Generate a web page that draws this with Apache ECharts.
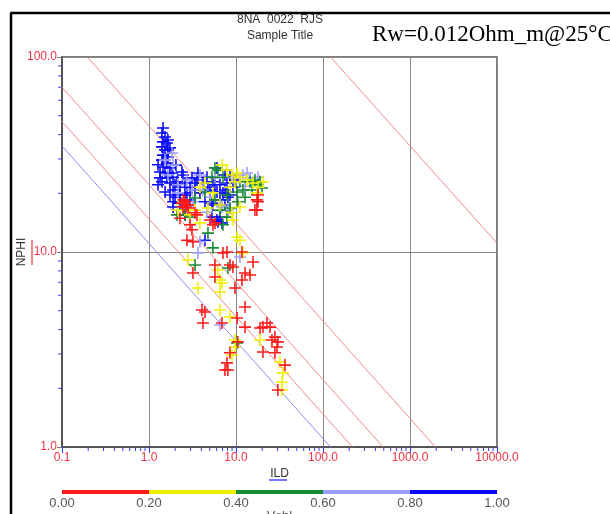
<!DOCTYPE html>
<html>
<head>
<meta charset="utf-8">
<title>NPHI vs ILD</title>
<script src="https://cdn.jsdelivr.net/npm/echarts@6.0.0/dist/echarts.min.js"></script>
<style>
  html,body{margin:0;padding:0;background:#fff;}
  #chart{width:610px;height:514px;}
</style>
</head>
<body>
<div id="chart"></div>
<script>
// tick labels
var ildTicks = [0.1, 1, 10, 100, 1000, 10000];
var nphiTicks = [1, 10, 100];
var minorMult = [2, 3, 4, 5, 6, 7, 8, 9];

// Vshl classes for the colour bar
var vshlBins = [[0, 0.2], [0.2, 0.4], [0.4, 0.6], [0.6, 0.8], [0.8, 1.0]];
var vshlTicks = [0, 0.2, 0.4, 0.6, 0.8, 1.0];
var vshlColors = ['#ff1a1a', '#f0f000', '#178a34', '#9d9dff', '#0a0aff'];

// points [ILD, NPHI], one list per Vshl class
var ptsBlue = [
  [1.45,43.2],[1.41,40.8],[1.53,38.9],[1.45,36.7],[1.61,36.2],[1.41,34.6],[1.53,33.4],[1.74,34.2],
  [1.45,31.4],[1.65,30.7],[1.41,29.6],[1.61,28.6],[1.45,27.3],[1.74,27.0],[1.34,25.7],[1.53,25.4],
  [1.84,25.4],[1.61,24.0],[1.89,24.2],[1.41,22.9],[1.74,22.6],[2.10,22.9],[2.27,21.5],[1.89,20.8],
  [2.39,25.7],[2.46,24.8],[2.73,20.1],[2.96,21.5],[3.38,20.8],[3.85,20.1],[3.65,25.4],[3.56,23.4],
  [4.64,24.2],[4.76,21.5],[5.43,22.9],[6.04,20.3],[6.54,22.1],[7.08,20.1],[7.87,22.6],[7.47,24.8],
  [8.52,24.8],[9.22,21.5],[8.08,19.1],[6.54,18.5],[5.29,17.8],[4.40,18.1],[5.29,15.1],[6.04,14.6],
  [6.90,14.1],[2.27,17.8],[1.89,17.0],[2.59,15.5],[1.99,19.1],[6.04,27.0],[4.40,11.5],[6.20,14.3],
  [5.43,17.4],[7.47,17.4],[6.54,15.1],[1.89,18.1],[1.27,28.0],[1.65,33.4],[1.99,22.1],[2.59,22.6],
  [3.12,24.0],[4.17,22.6],[1.27,22.1],[1.53,20.3],[1.74,19.6],[1.34,24.0],[2.59,19.6],[2.96,18.5],
  [3.38,22.6],[5.02,20.8],[5.73,22.1],[8.52,19.6],[9.73,23.4],[7.47,20.8],[2.27,19.6],[2.04,27.9],
  [1.65,37.5]
];
var ptsLav = [
  [1.84,32.2],[1.89,27.9],[1.65,24.8],[2.15,20.1],[2.73,23.4],[3.85,24.8],[4.17,20.8],[5.02,19.1],
  [12.0,24.8],[13.4,25.4],[17.9,24.2],[9.22,24.0],[3.20,18.1],[6.90,17.0],[4.64,16.0],[3.85,11.3],
  [3.65,9.88],[11.1,9.43],[8.08,16.4],[6.54,4.22],[1.53,29.6],[2.15,22.1],[3.12,20.8],[5.73,24.0],
  [14.5,24.0],[12.7,21.8]
];
var ptsGreen = [
  [5.73,27.0],[6.20,26.3],[5.29,24.2],[7.08,24.2],[11.1,22.9],[14.5,22.9],[16.5,23.4],[18.9,22.9],
  [19.9,21.3],[15.3,20.8],[12.0,20.8],[10.3,20.3],[12.7,19.1],[7.87,19.6],[5.73,18.5],[4.40,20.3],
  [3.38,18.9],[2.46,16.4],[2.96,15.1],[6.54,16.4],[8.52,16.8],[2.59,15.5],[2.10,15.5],[4.76,12.5],
  [5.43,10.5],[3.38,8.58],[8.08,8.28],[7.08,13.8],[10.5,18.1],[7.87,15.1],[10.3,3.42],[17.9,22.1]
];
var ptsYellow = [
  [6.90,27.9],[7.87,26.3],[8.98,24.8],[10.3,25.4],[9.73,22.9],[11.1,24.2],[13.4,23.4],[15.7,22.6],
  [17.9,21.5],[8.52,21.5],[3.85,21.5],[4.40,22.6],[2.46,18.1],[2.15,16.4],[3.38,16.4],[5.43,20.1],
  [6.54,17.4],[17.4,20.1],[20.4,22.9],[3.85,14.1],[4.76,16.8],[8.98,15.9],[9.22,14.6],[2.96,15.5],
  [11.1,17.0],[10.3,11.9],[11.1,11.5],[12.0,9.88],[3.65,6.54],[6.54,6.24],[6.90,6.93],[6.54,5.04],
  [8.52,4.64],[9.73,3.54],[9.73,3.26],[8.98,2.96],[18.9,3.54],[32.0,2.73],[34.6,2.40],[33.7,2.15],
  [33.7,1.96],[6.54,7.18],[6.20,8.09],[2.81,9.10]
];
var ptsRed = [
  [2.39,17.8],[2.59,18.1],[2.73,17.4],[2.46,17.0],[2.81,16.8],[2.50,18.5],[2.66,17.0],
  [17.4,16.4],[17.9,18.1],[17.4,18.5],[16.5,16.4],[17.9,19.6],[2.81,17.4],[3.56,15.5],[5.02,14.6],
  [5.43,13.8],[3.12,13.0],[2.73,11.5],[3.20,11.3],[7.87,10.0],[7.08,9.88],[11.7,10.0],[15.7,8.89],
  [8.52,8.58],[9.22,8.38],[5.73,8.58],[3.20,7.80],[5.73,7.44],[12.7,7.80],[14.5,7.62],[11.7,7.18],
  [9.73,6.54],[12.7,5.22],[4.06,5.04],[4.40,4.92],[4.17,4.32],[6.90,4.32],[10.3,4.59],[12.7,4.12],
  [22.7,4.32],[20.4,4.12],[24.6,4.12],[18.9,4.08],[28.0,3.66],[30.3,3.46],[25.9,3.54],[20.4,3.07],
  [28.0,3.04],[29.6,3.26],[10.5,3.46],[8.52,3.04],[7.87,2.70],[7.47,2.48],[8.08,2.48],[36.5,2.63],
  [30.3,1.96],[2.27,14.9],[2.96,13.8],[5.73,14.1],[3.38,15.9]
];

// Sw lines for Rw=0.012, end points
var swLine100 = [[0.1, 35], [122, 1]];
var swLine75 = [[0.1, 46.7], [218, 1]];
var swLine50 = [[0.1, 70], [490, 1]];
var swLine25 = [[0.196, 100], [1960, 1]];
var swLineHi = [[122, 100], [10000, 11.1]];

var PLUS = 'path://M0,4.35H4.35V0H5.65V4.35H10V5.65H5.65V10H4.35V5.65H0Z';

function pointSeries(data, color){
  return {
    type: 'scatter', xAxisIndex: 0, yAxisIndex: 0,
    data: data, symbol: PLUS, symbolSize: 12,
    itemStyle: { color: color, opacity: 1 },
    silent: true, z: 5
  };
}
function swSeries(data, color){
  return {
    type: 'line', xAxisIndex: 0, yAxisIndex: 0,
    data: data, symbol: 'none', silent: true, z: 3,
    lineStyle: { color: color, width: 1 }
  };
}

// minor tick positions 2..9 per decade
function minorVals(lo, hi){
  var res = [];
  for(var e = lo; e < hi; e++){
    for(var i = 0; i < minorMult.length; i++){
      res.push(minorMult[i] * Math.pow(10, e));
    }
  }
  return res;
}
var xMinor = minorVals(-1, 4).map(function(v){ return [v, 1]; });
var yMinor = minorVals(0, 2).map(function(v){ return [0.1, v]; });

var fmt1 = function(v){ return (+v).toFixed(1); };

window.onload = function(){
  var myChart = echarts.init(document.getElementById('chart'), null, { renderer: 'canvas' });
  var option = {
    animation: false,
    backgroundColor: '#fff',
    textStyle: { fontFamily: 'Liberation Sans, Arial, sans-serif' },
    grid: [
      { left: 62, top: 57, width: 435, height: 390, show: true, borderColor: '#555', borderWidth: 1.5,
        backgroundColor: 'transparent', outerBoundsMode: 'none' },
      { left: 62, top: 490, width: 435, height: 4, outerBoundsMode: 'none' }
    ],
    xAxis: [
      {
        type: 'log', logBase: 10, min: 0.1, max: 10000, gridIndex: 0,
        name: 'ILD', nameLocation: 'middle', nameGap: 21, nameMoveOverlap: false,
        nameTextStyle: { color: '#333', fontSize: 12 },
        axisLine: { show: true, lineStyle: { color: '#555', width: 2 } },
        axisTick: { show: true, length: 6, lineStyle: { color: '#3a3aff' }, customValues: ildTicks },
        axisLabel: { color: '#ee3344', fontSize: 12, margin: 5, formatter: fmt1, customValues: ildTicks,
          showMinLabel: true, showMaxLabel: true },
        splitLine: { show: true, lineStyle: { color: '#888', width: 1 } },
        minorTick: { show: false }
      },
      {
        type: 'value', min: 0, max: 1, interval: 0.2, gridIndex: 1,
        name: 'Vshl', nameLocation: 'middle', nameGap: 16, nameMoveOverlap: false,
        nameTextStyle: { color: '#555', fontSize: 13 },
        axisLine: { show: false }, axisTick: { show: false }, splitLine: { show: false },
        axisLabel: { color: '#555', fontSize: 13, margin: 3, showMinLabel: true, showMaxLabel: true,
          customValues: vshlTicks,
          formatter: function(v){ return (+v).toFixed(2); } }
      }
    ],
    yAxis: [
      {
        type: 'log', logBase: 10, min: 1, max: 100, gridIndex: 0,
        name: 'NPHI', nameLocation: 'middle', nameGap: 34, nameRotate: 90, nameMoveOverlap: false,
        nameTextStyle: { color: '#333', fontSize: 12 },
        axisLine: { show: true, lineStyle: { color: '#555', width: 2 } },
        axisTick: { show: true, length: 5, lineStyle: { color: '#777' }, customValues: nphiTicks },
        axisLabel: { color: '#ee3344', fontSize: 12, margin: 5, formatter: fmt1, customValues: nphiTicks,
          showMinLabel: true, showMaxLabel: true },
        splitLine: { show: true, lineStyle: { color: '#888', width: 1 } }
      },
      { type: 'value', min: 0, max: 1, gridIndex: 1, show: false }
    ],
    graphic: [
      // frame
      { type: 'line', shape: { x1: 11, y1: 13, x2: 11, y2: 514 }, style: { stroke: '#000', lineWidth: 2.5 } },
      { type: 'line', shape: { x1: 10, y1: 13, x2: 610, y2: 13 }, style: { stroke: '#000', lineWidth: 2.5 } },
      { type: 'text', x: 280, y: 20, style: { text: '8NA  0022  RJS', textAlign: 'center', textVerticalAlign: 'middle',
        font: '12px "Liberation Sans", Arial, sans-serif', fill: '#333' } },
      { type: 'text', x: 280, y: 36, style: { text: 'Sample Title', textAlign: 'center', textVerticalAlign: 'middle',
        font: '12px "Liberation Sans", Arial, sans-serif', fill: '#333' } },
      { type: 'text', x: 372, y: 35, style: { text: 'Rw=0.012Ohm_m@25\u00b0C', textAlign: 'left', textVerticalAlign: 'middle',
        font: '23px "Liberation Serif", "Times New Roman", serif', fill: '#000' } },
      // NPHI marker and ILD underline
      { type: 'line', shape: { x1: 32, y1: 240, x2: 32, y2: 265 }, style: { stroke: '#ee3344', lineWidth: 1.2 } },
      { type: 'line', shape: { x1: 269, y1: 480, x2: 287, y2: 480 }, style: { stroke: '#4a4aff', lineWidth: 1.5 } }
    ],
    series: [
      swSeries(swLine100, '#8c8cf0'),
      swSeries(swLine75, '#f08a8a'),
      swSeries(swLine50, '#f08a8a'),
      swSeries(swLine25, '#f08a8a'),
      swSeries(swLineHi, '#f08a8a'),
      pointSeries(ptsBlue, vshlColors[4]),
      pointSeries(ptsLav, vshlColors[3]),
      pointSeries(ptsGreen, vshlColors[2]),
      pointSeries(ptsYellow, vshlColors[1]),
      pointSeries(ptsRed, vshlColors[0]),
      // minor ticks on the log axes
      {
        type: 'custom', xAxisIndex: 0, yAxisIndex: 0, data: xMinor, clip: false, silent: true, z: 6,
        renderItem: function(params, api){
          var p = api.coord([api.value(0), api.value(1)]);
          return { type: 'line', shape: { x1: p[0], y1: p[1] + 1, x2: p[0], y2: p[1] + 4 },
            style: { stroke: '#3a3aff', lineWidth: 1 } };
        }
      },
      {
        type: 'custom', xAxisIndex: 0, yAxisIndex: 0, data: yMinor, clip: false, silent: true, z: 6,
        renderItem: function(params, api){
          var p = api.coord([api.value(0), api.value(1)]);
          return { type: 'line', shape: { x1: p[0] - 4, y1: p[1], x2: p[0] - 1, y2: p[1] },
            style: { stroke: '#3a3aff', lineWidth: 1 } };
        }
      },
      // colour bar
      {
        type: 'custom', xAxisIndex: 1, yAxisIndex: 1, data: vshlBins, silent: true,
        encode: { x: [0, 1] },
        renderItem: function(params, api){
          var a = api.coord([api.value(0), 0]);
          var b = api.coord([api.value(1), 1]);
          return { type: 'rect', shape: { x: a[0], y: b[1], width: b[0] - a[0], height: a[1] - b[1] },
            style: { fill: vshlColors[params.dataIndex] } };
        }
      }
    ]
  };
  myChart.setOption(option);
};
</script>
</body>
</html>
